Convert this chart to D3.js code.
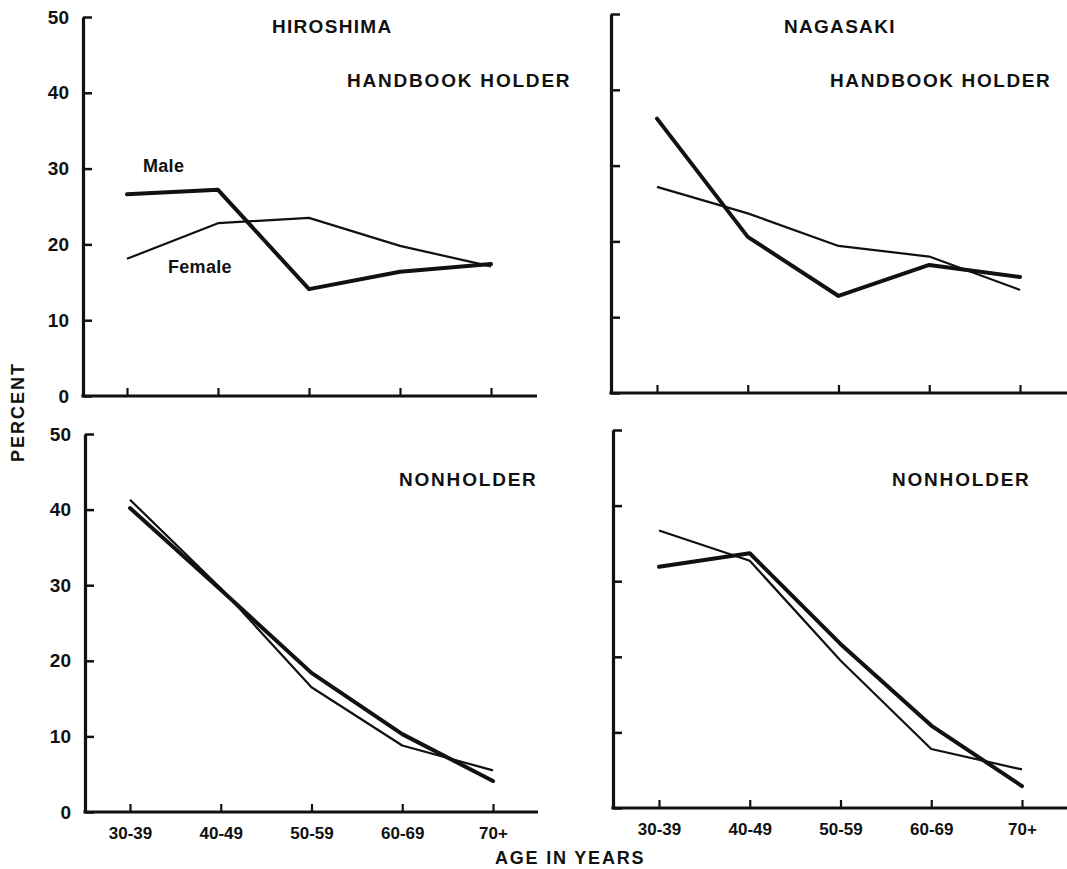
<!DOCTYPE html>
<html>
<head>
<meta charset="utf-8">
<script src="https://cdn.jsdelivr.net/npm/d3@7"></script>
<style>
  body { margin: 0; background: #fff; }
  svg text { font-family: "Liberation Sans", Arial, sans-serif; font-weight: bold; fill: #111; }
</style>
</head>
<body>
<div id="chart"></div>
<script>
// age groups on the x axis
const ageGroups = ["30-39", "40-49", "50-59", "60-69", "70+"];
const yTicks = [0, 10, 20, 30, 40, 50];

// percent values
const hiroHolderMale   = [26.6, 27.2, 14.1, 16.4, 17.4];
const hiroHolderFemale = [18.1, 22.8, 23.5, 19.8, 17.1];
const nagaHolderMale   = [36.2, 20.6, 12.8, 16.9, 15.3];
const nagaHolderFemale = [27.2, 23.7, 19.4, 18.0, 13.6];
const hiroNonMale      = [40.2, 29.4, 18.4, 10.3, 4.1];
const hiroNonFemale    = [41.3, 29.6, 16.5, 8.8, 5.5];
const nagaNonMale      = [31.9, 33.7, 21.7, 10.9, 2.9];
const nagaNonFemale    = [36.7, 32.7, 19.5, 7.8, 5.1];

const width = 1067, height = 869;

let svg = d3.select("#chart")
            .append("svg")
            .attr("width", width)
            .attr("height", height);

// one entry per panel: axis origin, extent, tick span
let panels = [
  { ax: 83,  top: 17,  bottom: 396, x0: 127, x1: 491,  xEnd: 537,  male: hiroHolderMale, female: hiroHolderFemale, yLabels: true,  xLabels: false },
  { ax: 611, top: 14,  bottom: 393, x0: 657, x1: 1020, xEnd: 1067, male: nagaHolderMale, female: nagaHolderFemale, yLabels: false, xLabels: false },
  { ax: 85,  top: 434, bottom: 812, x0: 130, x1: 493,  xEnd: 538,  male: hiroNonMale,    female: hiroNonFemale,    yLabels: true,  xLabels: true },
  { ax: 613, top: 430, bottom: 808, x0: 659, x1: 1022, xEnd: 1067, male: nagaNonMale,    female: nagaNonFemale,    yLabels: false, xLabels: true }
];

panels.forEach(p => {
  let x = d3.scalePoint().domain(ageGroups).range([p.x0, p.x1]);
  let y = d3.scaleLinear().domain([0, 50]).range([p.bottom, p.top]);

  // y axis, ticks pointing inward
  let yAxis = svg.append("g")
     .attr("transform", "translate(" + p.ax + ",0)")
     .call(d3.axisLeft(y)
             .tickValues(yTicks)
             .tickSizeInner(-9)
             .tickSizeOuter(0)
             .tickPadding(14)
             .tickFormat(p.yLabels ? d3.format("d") : () => ""));
  yAxis.select(".domain").attr("stroke", "#111").attr("stroke-width", 3.2);
  yAxis.selectAll(".tick line").attr("stroke", "#111").attr("stroke-width", 2.5);
  yAxis.selectAll(".tick text").style("font-size", "19px");

  // x axis baseline
  svg.append("line")
     .attr("x1", p.ax - 1.6).attr("x2", p.xEnd)
     .attr("y1", p.bottom).attr("y2", p.bottom)
     .attr("stroke", "#111").attr("stroke-width", 3.2);

  let xAxis = svg.append("g")
     .attr("transform", "translate(0," + p.bottom + ")")
     .call(d3.axisBottom(x)
             .tickSizeInner(-8)
             .tickSizeOuter(0)
             .tickPadding(15)
             .tickFormat(p.xLabels ? d => d : () => ""));
  xAxis.select(".domain").remove();
  xAxis.selectAll(".tick line").attr("stroke", "#111").attr("stroke-width", 2.2);
  xAxis.selectAll(".tick text").style("font-size", "17px");

  let line = d3.line()
               .x((d, i) => x(ageGroups[i]))
               .y(d => y(d));

  svg.append("path")
     .datum(p.female)
     .attr("d", line)
     .attr("fill", "none")
     .attr("stroke", "#111")
     .attr("stroke-width", 2.2)
     .attr("stroke-linejoin", "round");

  svg.append("path")
     .datum(p.male)
     .attr("d", line)
     .attr("fill", "none")
     .attr("stroke", "#111")
     .attr("stroke-width", 4)
     .attr("stroke-linejoin", "round")
     .attr("stroke-linecap", "round");
});

// panel titles
function label(txt, x, y, size, spacing) {
  return svg.append("text")
     .attr("x", x).attr("y", y)
     .style("font-size", size + "px")
     .style("letter-spacing", spacing + "px")
     .text(txt);
}

label("HIROSHIMA", 272, 33, 19, 1.3);
label("HANDBOOK HOLDER", 347, 87, 19, 1.8);
label("NAGASAKI", 784, 33, 19, 1.3);
label("HANDBOOK HOLDER", 830, 87, 19, 1.6);
label("NONHOLDER", 399, 486, 19, 1.8);
label("NONHOLDER", 892, 486, 19, 1.8);

label("Male", 143, 172, 18, 0.3);
label("Female", 168, 273, 18, 0.3);

label("AGE IN YEARS", 495, 864, 18, 1.8);

svg.append("text")
   .attr("transform", "translate(24,412) rotate(-90)")
   .attr("text-anchor", "middle")
   .style("font-size", "18px")
   .style("letter-spacing", "2px")
   .text("PERCENT");
</script>
</body>
</html>
